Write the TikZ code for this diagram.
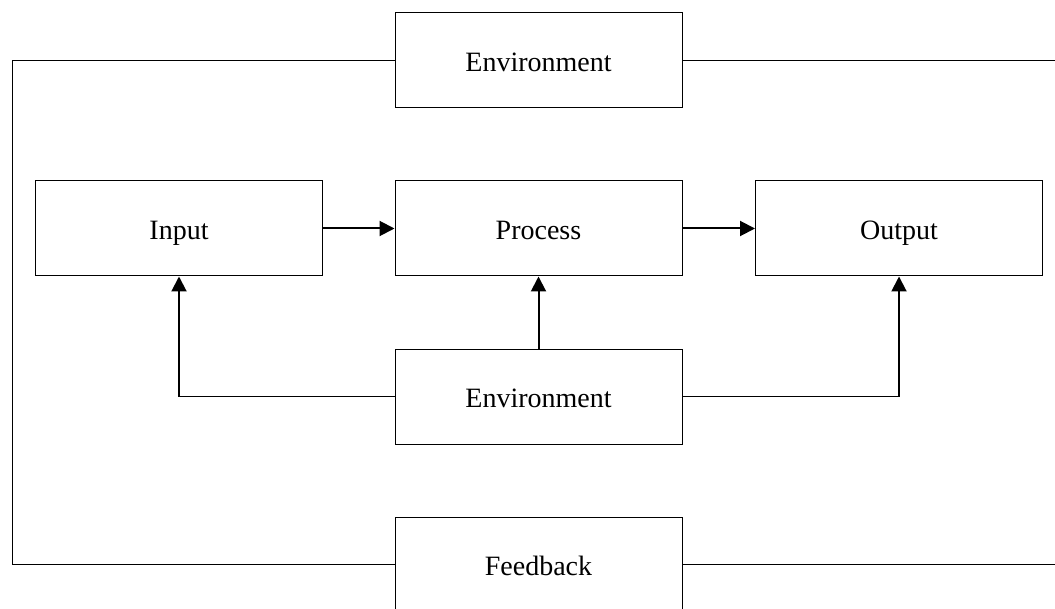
\documentclass[tikz,border=0pt]{standalone}
\usepackage{fontspec}
\setmainfont{Liberation Serif}
\usetikzlibrary{arrows.meta}
\begin{document}
\begin{tikzpicture}[x=0.75pt,y=-0.75pt]
\useasboundingbox (0,0) rectangle (1055,609);
\begin{scope}[every node/.style={rectangle,draw,line width=0.75pt,minimum width=215.25pt,minimum height=71.25pt,text height=15.8pt,text depth=0pt,font=\fontsize{21}{25}\selectfont}]
    \node (1) at (538.5,60.5) {Environment};
    \node (2) at (179,228.5) {Input};
    \node (3) at (538.5,228.5) {Process};
    \node (4) at (899,228.5) {Output};
    \node (5) at (538.5,396.5) {Environment};
    \node (6) at (538.5,564.5) {Feedback};
\end{scope}

\coordinate (tl) at (12,60.5);
\coordinate (bl) at (12,564.5);
\coordinate (tr) at (1055,60.5);
\coordinate (br) at (1055,564.5);
\coordinate (il) at (2.south |- 5.west);
\coordinate (ol) at (4.south |- 5.east);

\begin{scope}[every edge/.style={draw=black,line width=1.5pt,-{Triangle[length=11.25pt,width=11.25pt]}}]
    \path (2) edge (3);
    \path (3) edge (4);
    \path (5) edge (3);
    \path (il) edge (2.south);
    \path (ol) edge (4.south);
\end{scope}

\draw [line width=0.75pt] (5.west) -- (il);
\draw [line width=0.75pt] (5.east) -- (ol);
\draw [line width=0.75pt] (1.west) -- (tl) -- (bl) -- (6.west);
\draw [line width=0.75pt] (1.east) -- (tr);
\draw [line width=0.75pt] (6.east) -- (br);
\end{tikzpicture}
\end{document}
